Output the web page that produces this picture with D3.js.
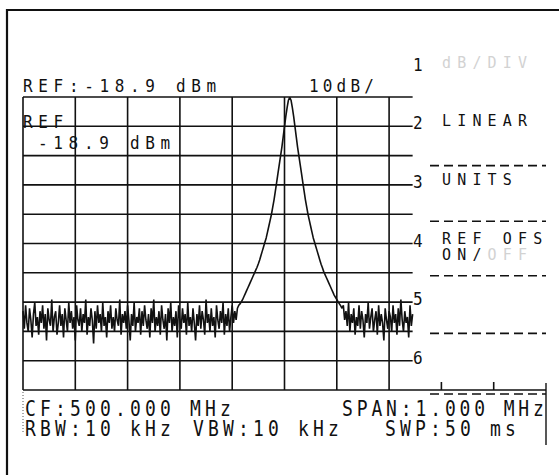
<!DOCTYPE html>
<html>
<head>
<meta charset="utf-8">
<script src="https://cdn.jsdelivr.net/npm/d3@7"></script>
<style>
body { margin: 0; background: #fff; }
text { font-family: "DejaVu Sans Mono", monospace; fill: #111; }
</style>
</head>
<body>
<div id="container"></div>
<script>
/* CONSTANTS AND GLOBALS */
const width = 559, height = 475;

/* DATA */
const refLevel = -18.9;     // dBm
const dbPerDiv = 10;
const vDivs = 10, hDivs = 10;
const centerFreq = 500.0;   // MHz
const span = 1.0;           // MHz
const stepMHz = 0.0025;     // one trace point every 2.5 kHz
const shownMHz = 0.745;     // trace is hidden under the softkey menu after this

// trace in dBm, left noise floor -> carrier skirt -> right noise floor
const noiseLeft = [
  -92,-98,-90,-96,-99,-91,-95,-101,-93,-89,-97,-94,-100,-92,-96,-90,
  -98,-93,-102,-91,-95,-97,-88,-99,-94,-92,-100,-96,-90,-97,-93,-101,
  -91,-95,-99,-89,-96,-92,-98,-94,-102,-90,-95,-97,-91,-99,-93,-96,
  -88,-100,-94,-97,-91,-95,-103,-92,-98,-90,-96,-93,-99,-89,-97,-94,
  -101,-92,-96,-90,-98,-94,-99,-91,-95,-97,-88,-100,-93,-96,-92,-98,
  -90,-95,-102,-93,-97,-89,-99,-94,-96,-91,-100,-92,-97,-90,-95,-98,
  -93,-101,-91,-96,-88,-99,-94,-97,-92,-100,-90,-95,-98,-93,-102,-91,
  -96,-89,-99,-94,-97,-92,-101,-90,-95,-98,-91,-96,-93,-100,-89,-97,
  -94,-99,-91,-96,-102,-93,-97,-90,-98,-92,-95,-100,-88,-96,-93,-99,
  -91,-97,-94,-101,-90,-95,-98,-92,-96,-89,-100,-93,-97,-91,-99,-94,
  -90,-96,-92,-95
];
const peakSkirt = [
  -91.0,-90.0,-89.5,-88.8,-88.0,-87.0,-86.0,-85.0,-84.0,-83.0,
  -82.0,-81.0,-80.0,-79.0,-78.0,-77.0,-75.8,-74.5,-73.0,-71.5,
  -70.0,-68.5,-67.0,-65.0,-63.0,-61.0,-59.0,-56.5,-54.0,-51.0,
  -48.0,-45.0,-42.0,-39.0,-36.0,-32.5,-29.0,-25.5,-22.5,-20.0,
  -19.0,
  -20.0,-22.5,-25.5,-29.0,-32.5,-36.0,-39.0,-42.0,-45.0,-48.0,
  -51.0,-54.0,-56.5,-59.0,-61.0,-63.0,-65.0,-67.0,-68.5,-70.0,
  -71.5,-73.0,-74.5,-76.0,-77.2,-78.5,-79.5,-80.5,-81.5,-82.5,
  -83.5,-84.5,-85.5,-86.5,-87.3,-88.0,-88.8,-89.5,-90.2,-91.0
];
const noiseRight = [
  -90,-95,-92,-97,-89,-99,-93,-96,-91,-100,-94,-97,-90,-98,-92,-95,-101,-93,
  -96,-89,-98,-94,-91,-99,-95,-92,-100,-90,-97,-93,-96,-102,-91,-95,-98,-92,
  -94,-99,-90,-96,-93,-100,-91,-97,-88,-95,-99,-92,-96,-94,-101,-90,-97,-93
];
const trace = noiseLeft.concat(peakSkirt, noiseRight);

const softkeyNums = ["1", "2", "3", "4", "5", "6"];
const softkeyText = ["dB/DIV", "LINEAR", "UNITS", "REF OFS\nON/OFF", "", ""];
const dimmed = /(dB\/DIV|OFF)/;   // greyed-out choices on the screen

const topLeftText = "REF:-18.9 dBm";
const topRightText = "10dB/";
const refBoxText = ["REF", "-18.9", "dBm"];
const bottomText = ["CF:500.000 MHz", "SPAN:1.000 MHz", "RBW:10 kHz", "VBW:10 kHz", "SWP:50 ms"];

/* SCALES */
const startF = centerFreq - span / 2;
const xScale = d3.scaleLinear()
  .domain([startF, centerFreq + span / 2])
  .range([23, 546]);

const yScale = d3.scaleLinear()
  .domain([refLevel - dbPerDiv * vDivs, refLevel])
  .range([390, 97]);

const gridRight = xScale(startF + shownMHz);

const svg = d3.select("#container").append("svg")
  .attr("width", width)
  .attr("height", height);

// plotter style text: tall, narrow glyphs on a fixed pitch
function label(g, str, x, y, fs, sy, pitch) {
  return g.append("text")
    .attr("transform", `translate(${x},${y}) scale(1,${sy})`)
    .attr("font-size", fs)
    .attr("letter-spacing", pitch - 0.602 * fs)
    .text(str);
}

/* FRAME */
svg.append("path")
  .attr("d", "M7,475V10H559")
  .attr("fill", "none")
  .attr("stroke", "#111")
  .attr("stroke-width", 2.2);

/* GRID */
const grid = svg.append("g").attr("stroke", "#111").attr("stroke-width", 1.6);

grid.selectAll("line.h")
  .data(d3.range(vDivs + 1))
  .join("line")
  .attr("class", "h")
  .attr("x1", xScale(startF))
  .attr("x2", d => d === vDivs ? xScale(startF + span) : gridRight)
  .attr("y1", d => yScale(refLevel - d * dbPerDiv))
  .attr("y2", d => yScale(refLevel - d * dbPerDiv));

const fStep = span / hDivs;
grid.selectAll("line.v")
  .data(d3.range(hDivs))
  .join("line")
  .attr("class", "v")
  .attr("x1", d => xScale(startF + d * fStep))
  .attr("x2", d => xScale(startF + d * fStep))
  .attr("y1", d => d < 8 ? yScale(refLevel) : yScale(refLevel - 100) - 8)
  .attr("y2", yScale(refLevel - 100));

// right edge of the lower annotation box
grid.append("line")
  .attr("x1", xScale(startF + span)).attr("x2", xScale(startF + span))
  .attr("y1", yScale(refLevel - 100) - 7).attr("y2", 445)
  .attr("stroke-width", 1.4);
// dotted left edge of the box
grid.append("line")
  .attr("x1", xScale(startF)).attr("x2", xScale(startF))
  .attr("y1", 392).attr("y2", 434)
  .attr("stroke", "#555").attr("stroke-width", 1)
  .attr("stroke-dasharray", "1,2");

/* TRACE */
const line = d3.line()
  .x((d, i) => xScale(startF + i * stepMHz))
  .y(d => yScale(d));

svg.append("path")
  .datum(trace)
  .attr("d", line)
  .attr("fill", "none")
  .attr("stroke", "#111")
  .attr("stroke-width", 1.6)
  .attr("stroke-linejoin", "bevel");

/* TEXT */
label(svg, topLeftText, 23, 92, 16, 1.05, 15.3);
label(svg, topRightText, 309, 92, 16, 1.05, 13.8);
label(svg, refBoxText[0], 23, 128, 16, 1.05, 15.3);
label(svg, refBoxText[1], 38, 149, 16, 1.05, 15.3);
label(svg, refBoxText[2], 130, 149, 16, 1.05, 15.3);

// softkey menu
const keys = svg.append("g");
softkeyNums.forEach((n, i) => {
  const yk = yScale(refLevel - (2 * i - 1) * dbPerDiv) + 3;
  label(keys, n, 413, yk, 16, 1.1, 15);
  const txt = softkeyText[i];
  if (!txt) return;
  txt.split("\n").forEach((ln, j) => {
    const t = label(keys, "", 442, yk - 3 + j * 16, 15, 1.1, 15.2);
    ln.split(dimmed).filter(s => s).forEach(s => {
      t.append("tspan")
        .style("fill", dimmed.test(s) ? "#d2d2d2" : "#111")
        .text(s);
    });
  });
});

const sepOffset = [10, 7, 3, 2, 4];   // dashes sit a little under each pair of rows
keys.selectAll("line.sep")
  .data(d3.range(1, softkeyNums.length))
  .join("line")
  .attr("class", "sep")
  .attr("x1", 430).attr("x2", 546)
  .attr("y1", d => yScale(refLevel - 2 * d * dbPerDiv) + sepOffset[d - 1])
  .attr("y2", d => yScale(refLevel - 2 * d * dbPerDiv) + sepOffset[d - 1])
  .attr("stroke", "#111").attr("stroke-width", 1.6)
  .attr("stroke-dasharray", "9,5");

// bottom annotation
label(svg, bottomText[0], 25, 416, 18, 1.2, 15);
label(svg, bottomText[1], 342, 416, 18, 1.2, 14.7);
label(svg, bottomText[2], 25, 436, 18, 1.2, 15);
label(svg, bottomText[3], 193, 436, 18, 1.2, 15);
label(svg, bottomText[4], 385, 436, 18, 1.2, 15);
</script>
</body>
</html>
